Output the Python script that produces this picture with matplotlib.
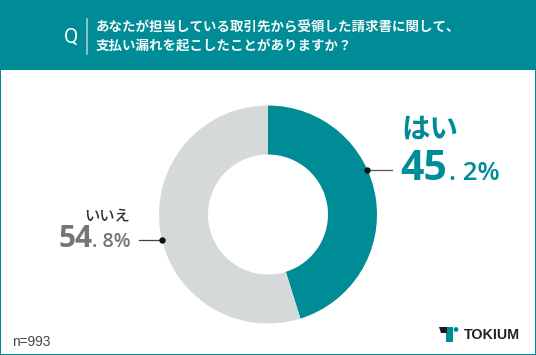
import matplotlib
matplotlib.use("Agg")
import matplotlib.pyplot as plt
from matplotlib.patches import Rectangle, Circle, Polygon

plt.rcParams['font.family'] = ['Noto Sans CJK JP', 'DejaVu Sans']

# data
categories = ["はい", "いいえ"]
values = [45.2, 54.8]
whole_parts = ["45", "54"]
decimal_parts = [". 2%", ". 8%"]
title_lines = ["あなたが担当している取引先から受領した請求書に関して、",
               "支払い漏れを起こしたことがありますか？"]
question_mark = "Q"
sample_label = "n=993"
brand = "TOKIUM"

TEAL = "#008c96"
GREY = "#d5d9da"
W, H = 536, 355

fig = plt.figure(figsize=(W / 100, H / 100), dpi=100, facecolor="white")
bg = fig.add_axes([0, 0, 1, 1])
bg.set_xlim(0, W)
bg.set_ylim(H, 0)
bg.axis("off")

# frame and header
bg.add_patch(Rectangle((0, 0), W, 70, color=TEAL, lw=0))
bg.add_patch(Rectangle((0, 0), 1.2, H, color=TEAL, lw=0))
bg.add_patch(Rectangle((W - 1.2, 0), 1.2, H, color=TEAL, lw=0))
bg.add_patch(Rectangle((0, H - 1.5), W, 1.5, color=TEAL, lw=0))

# Q mark and divider in header
bg.text(71, 43, question_mark, color="white", fontsize=15, ha="center", va="baseline",
        family="Roboto", weight="normal")
bg.plot([86.7, 86.7], [19, 53.5], color="#9fd0d3", lw=1.2)
bg.text(96, 28, title_lines[0], color="#f4fafa", fontsize=9.7, weight="bold",
        ha="left", va="center")
bg.text(96, 46, title_lines[1], color="#f4fafa", fontsize=9.7, weight="bold",
        ha="left", va="center")

# donut
cx, cy, R = 268, 214.5, 109
pie_ax = fig.add_axes([(cx - R) / W, 1 - (cy + R) / H, 2 * R / W, 2 * R / H])
pie_ax.pie(values, colors=[TEAL, GREY], startangle=90, counterclock=False,
           radius=1.0, wedgeprops=dict(width=1 - 60 / R, lw=0))
pie_ax.set_xlim(-1, 1)
pie_ax.set_ylim(-1, 1)
pie_ax.axis("off")

# leader lines on top
top = fig.add_axes([0, 0, 1, 1], facecolor="none")
top.set_xlim(0, W)
top.set_ylim(H, 0)
top.axis("off")
top.plot([367, 392], [170, 170], color="#555555", lw=0.9)
top.plot([367], [170], "o", color="#111111", ms=3.6)
top.plot([139, 162], [239.5, 239.5], color="#444444", lw=0.9)
top.plot([162], [239.5], "o", color="#111111", ms=3.6)

# labels
top.text(401, 130, categories[0], color=TEAL, fontsize=20.5, weight="bold",
         ha="left", va="center")
top.text(400, 180, whole_parts[0], color=TEAL, fontsize=29.5, weight="bold",
         ha="left", va="baseline", family="Open Sans")
top.text(449, 180, decimal_parts[0], color=TEAL, fontsize=18.5, weight="semibold",
         ha="left", va="baseline", family="Open Sans")
top.text(107, 216, categories[1], color="#333333", fontsize=11, weight="medium",
         ha="center", va="center")
top.text(59, 247, whole_parts[1], color="#757575", fontsize=21.5, weight="bold",
         ha="left", va="baseline", family="Open Sans")
top.text(92, 247, decimal_parts[1], color="#757575", fontsize=14, weight="semibold",
         ha="left", va="baseline", family="Open Sans")

top.text(12, 342.5, sample_label, color="#444444", fontsize=9.8, ha="left", va="center",
         family="Liberation Sans")

# logo
top.add_patch(Polygon([(446, 327), (453, 327), (453, 342), (446, 342)], color=TEAL, lw=0))
top.add_patch(Polygon([(439, 327), (447, 327), (447, 333), (441, 333)], color="#1a1a1a", lw=0))
top.add_patch(Circle((456, 329.5), 2.4, color=TEAL, lw=0))
top.text(464, 335, brand, color="#222222", fontsize=10.3, weight="bold", ha="left", va="center",
         family="Liberation Sans")

fig.savefig("out.png", dpi=100)
